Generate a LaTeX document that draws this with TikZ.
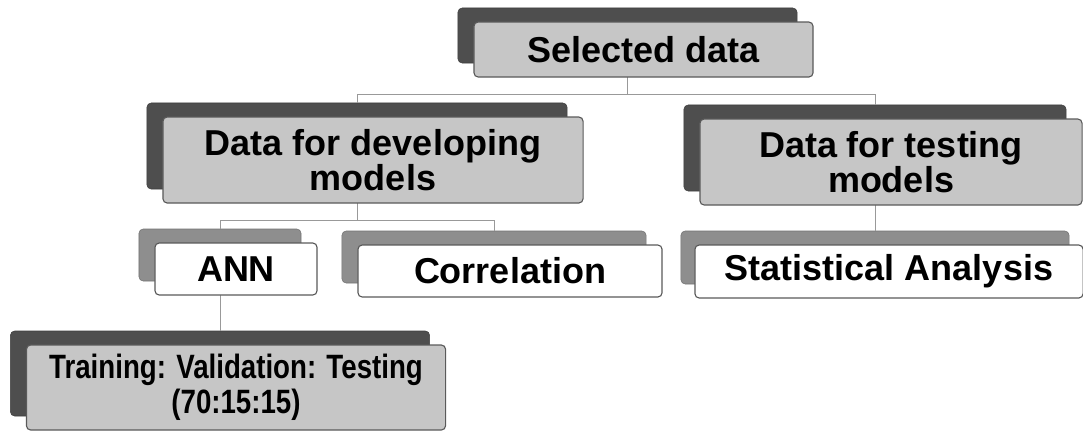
\documentclass[tikz,border=0pt]{standalone}
\usepackage{fontspec}
\setmainfont{Liberation Sans}
\newfontfamily\narrowfont[FakeStretch=0.82]{Liberation Sans}
\usepackage{tikz}
\usepackage{xcolor}
\usetikzlibrary{positioning}

\definecolor{darkback}{HTML}{4E4E4E}
\definecolor{midback}{HTML}{8E8E8E}
\definecolor{speckle}{HTML}{C6C6C6}
\definecolor{edgegray}{HTML}{5A5A5A}

\begin{document}
\begin{tikzpicture}[x=0.025cm, y=-0.025cm,
    box/.style={rectangle, rounded corners=3pt, inner sep=0pt, align=center, font=\bfseries\fontsize{25.6pt}{23pt}\selectfont},
    darkbox/.style={box, fill=darkback, draw=darkback!80!black, line width=0.4pt},
    graybox/.style={box, fill=midback, draw=midback!80!black, line width=0.4pt},
    topfront/.style={box, fill=speckle, draw=edgegray, line width=0.8pt},
    subfront/.style={box, fill=white, draw=edgegray, line width=0.8pt},
    link/.style={draw=gray!80, line width=0.6pt}]
    \useasboundingbox (0,0) rectangle (1083,430);

    \node[darkbox, minimum width=8.475cm, minimum height=1.375cm] (selB) at (627.5, 35.5) {};
    \node[darkbox, minimum width=10.5cm, minimum height=2.15cm] (devB) at (357, 146) {};
    \node[darkbox, minimum width=9.55cm, minimum height=2.15cm] (testB) at (875, 148) {};
    \node[graybox, minimum width=4.05cm, minimum height=1.3cm] (annB) at (220, 255) {};
    \node[graybox, minimum width=7.6cm, minimum height=1.3cm] (corrB) at (494, 257) {};
    \node[graybox, minimum width=9.7cm, minimum height=1.325cm] (statB) at (875, 257.5) {};
    \node[darkbox, minimum width=10.475cm, minimum height=2.125cm] (trainB) at (220, 373.5) {};

    \draw[link] (selB.south) -- ++(0,31) -| (devB.north);
    \draw[link] (selB.south) -- ++(0,31) -| (testB.north);
    \draw[link] (devB.south) -- ++(0,31) -| (annB.north);
    \draw[link] (devB.south) -- ++(0,31) -| (corrB.north);
    \draw[link] (testB.south) -- (statB.north);
    \draw[link] (annB.south) -- (trainB.north);

    \node[topfront, minimum width=8.475cm, minimum height=1.375cm] (sel) at ([xshift=0.4cm, yshift=-0.35cm]selB.center) {Selected data};
    \node[topfront, minimum width=10.5cm, minimum height=2.15cm] (dev) at ([xshift=0.4cm, yshift=-0.35cm]devB.center) {Data for developing\\models};
    \node[topfront, minimum width=9.55cm, minimum height=2.15cm] (test) at ([xshift=0.4cm, yshift=-0.35cm]testB.center) {Data for testing\\models};
    \node[subfront, minimum width=4.05cm, minimum height=1.3cm] (ann) at ([xshift=0.4cm, yshift=-0.35cm]annB.center) {ANN};
    \node[subfront, minimum width=7.6cm, minimum height=1.3cm] (corr) at ([xshift=0.4cm, yshift=-0.35cm]corrB.center) {Correlation};
    \node[subfront, minimum width=9.7cm, minimum height=1.325cm] (stat) at ([xshift=0.35cm, yshift=-0.35cm]statB.center) {Statistical Analysis};
    \node[topfront, minimum width=10.475cm, minimum height=2.125cm, font=\narrowfont\bfseries\fontsize{24pt}{25pt}\selectfont] (train) at ([xshift=0.4cm, yshift=-0.35cm]trainB.center) {Training: Validation: Testing\\(70:15:15)};
\end{tikzpicture}
\end{document}
